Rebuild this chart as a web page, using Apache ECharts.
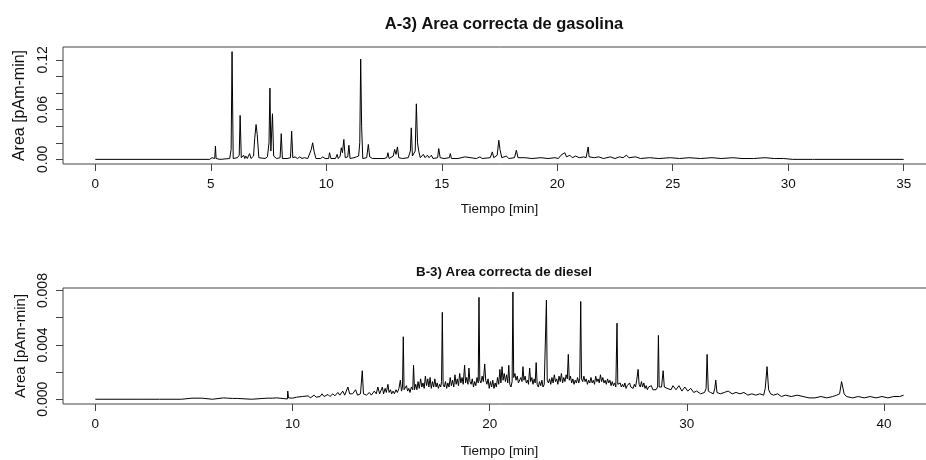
<!DOCTYPE html>
<html>
<head>
<meta charset="utf-8">
<script src="https://cdn.jsdelivr.net/npm/echarts@6/dist/echarts.min.js"></script>
<style>
    html, body { margin: 0; padding: 0; background: #fff; overflow: hidden; }
    /* el grafico original esta recortado por la derecha */
    #main { width: 944px; height: 460px; }
</style>
</head>
<body>
<div id="main"></div>
<script>
var gasolina = [
    [0,0],[4.95,0],[5.05,0.002],[5.12,0],[5.17,0.001],[5.2,0.016],[5.23,0.001],[5.4,0],[5.82,0.001],[5.88,0.012],[5.92,0.130],[5.97,0.001],
    [6.15,0.002],[6.23,0.005],[6.27,0.053],[6.32,0.002],[6.42,0.005],[6.47,0.001],[6.52,0.004],[6.58,0.001],[6.68,0.007],[6.74,0.001],
    [6.85,0.004],[6.9,0.025],[6.96,0.042],[7.01,0.03],[7.08,0.002],[7.35,0.001],[7.45,0.003],[7.52,0.02],[7.56,0.086],[7.6,0.01],
    [7.67,0.055],[7.72,0.004],[7.85,0.001],[8.0,0.002],[8.05,0.031],[8.1,0.001],[8.3,0.001],[8.45,0.002],[8.5,0.034],[8.55,0.002],
    [8.65,0.003],[8.75,0.001],[8.85,0.003],[8.95,0.001],[9.05,0.002],[9.2,0.001],[9.35,0.012],[9.41,0.020],[9.47,0.01],[9.55,0.001],
    [9.75,0.001],[9.85,0.003],[9.95,0.001],[10.1,0.001],[10.14,0.008],[10.2,0.001],[10.4,0.001],[10.47,0.006],[10.52,0.001],
    [10.6,0.004],[10.65,0.014],[10.7,0.008],[10.76,0.024],[10.82,0.002],[10.93,0.003],[10.98,0.017],[11.03,0.001],[11.2,0.002],
    [11.3,0.003],[11.4,0.004],[11.45,0.02],[11.49,0.121],[11.53,0.04],[11.58,0.001],[11.75,0.002],[11.82,0.018],[11.88,0.003],
    [12.0,0.001],[12.5,0.001],[12.62,0.002],[12.67,0.008],[12.72,0.001],[12.9,0.004],[12.96,0.012],[13.02,0.006],[13.08,0.015],
    [13.14,0.002],[13.3,0.001],[13.55,0.002],[13.64,0.01],[13.68,0.038],[13.73,0.004],[13.85,0.01],[13.9,0.067],[13.95,0.02],
    [14.01,0.009],[14.07,0.002],[14.2,0.006],[14.28,0.002],[14.38,0.005],[14.45,0.002],[14.55,0.005],[14.62,0.001],[14.82,0.002],
    [14.87,0.013],[14.93,0.002],[15.1,0.001],[15.33,0.002],[15.37,0.007],[15.42,0.001],[15.7,0.001],[16.0,0.003],[16.05,0.001],
    [16.5,0.001],[16.65,0.003],[16.75,0.001],[17.1,0.002],[17.19,0.009],[17.25,0.002],[17.4,0.005],[17.47,0.023],[17.52,0.012],
    [17.6,0.002],[17.8,0.004],[17.9,0.001],[18.15,0.002],[18.23,0.011],[18.3,0.002],[18.6,0.002],[18.9,0.001],[19.3,0.002],
    [19.6,0.001],[19.9,0.002],[20.05,0.001],[20.16,0.005],[20.22,0.003],[20.33,0.008],[20.4,0.003],[20.55,0.005],[20.65,0.002],
    [20.8,0.004],[20.95,0.002],[21.15,0.003],[21.25,0.002],[21.3,0.003],[21.34,0.015],[21.38,0.003],[21.6,0.002],[21.8,0.003],[22.0,0.001],
    [22.3,0.003],[22.5,0.001],[22.7,0.003],[22.85,0.002],[23.0,0.005],[23.1,0.002],[23.4,0.003],[23.6,0.001],[24.0,0.002],
    [24.4,0.001],[24.9,0.002],[25.3,0.001],[25.7,0.002],[26.2,0.001],[26.7,0.002],[27.1,0.001],[27.6,0.002],[28.0,0.001],
    [28.5,0.001],[29.0,0.002],[29.4,0.001],[29.8,0.001],[30.2,0],[31.05,0],[31.1,0.002],[31.15,0],[35,0]
];
var diesel = [
    [0,0],[0.18,0],[0.2,0.00012],[0.22,0],[0.69,0],[0.71,0.00012],[0.73,0],[1.4,0],[1.42,0.00012],[1.44,0],[2.16,0],[2.18,0.00012],
    [2.2,0],[3.26,0],[3.28,0.00012],[3.3,0],[4.38,0],[4.4,0.00008],[4.42,0],[4.9,0.00008],[4.92,0],[5.4,0.00008],[5.42,0],[5.94,0],
    [5.96,0.0001],[5.98,0],[6.5,0.0001],[6.52,0.00002],[6.7,0.00008],[6.75,0.00002],[6.95,0.00006],[7.0,0.00002],[7.2,0.00006],
    [7.25,0],[7.93,0],[7.95,0.0001],[7.97,0],[8.5,0.00006],[8.55,0.00002],[8.75,0.00008],[8.8,0.00002],[9.0,0.00008],[9.05,0.00002],
    [9.2,0.0001],[9.25,0.00002],[9.74,0.00002],[9.76,0.0006],[9.8,0.0001],[10.0,0.00008],[10.2,0.00015],[10.3,0.00005],[10.5,0.0002],
    [10.6,0.0001],[10.8,0.00025],[10.9,0.0001],[11.1,0.0003],[11.2,0.00015],[11.4,0.0002],[11.5,0.0004],[11.6,0.0002],[11.8,0.00035],
    [11.9,0.0002],[12.05,0.0004],[12.15,0.00025],[12.3,0.0005],[12.4,0.0003],[12.55,0.0006],[12.65,0.0003],[12.81,0.0009],[12.9,0.0004],
    [13.05,0.0004],[13.2,0.0007],[13.3,0.0003],[13.45,0.0004],[13.54,0.0021],[13.6,0.0004],[13.75,0.0003],[13.9,0.0005],[14.0,0.0003],
    [14.15,0.0006],[14.25,0.0004],[14.33,0.0009],[14.42,0.0004],
    [14.5,0.0005],[14.56,0.0009],[14.62,0.0004],[14.7,0.0008],[14.76,0.0005],[14.84,0.0011],[14.9,0.0005],[14.97,0.0007],[15.03,0.0004],
    [15.1,0.0006],[15.17,0.0004],[15.25,0.0007],[15.32,0.0005],[15.4,0.0008],[15.47,0.0014],[15.53,0.0006],[15.58,0.0009],[15.62,0.0046],
    [15.66,0.0007],[15.72,0.0006],[15.78,0.001],[15.84,0.0006],[15.9,0.0008],[15.96,0.0005],[16.03,0.0009],[16.1,0.0007],[16.14,0.0025],
    [16.19,0.0007],[16.25,0.0011],[16.31,0.0007],[16.37,0.0013],[16.43,0.0008],[16.5,0.0015],[16.56,0.0009],[16.62,0.0012],[16.68,0.0008],
    [16.74,0.0017],[16.8,0.001],[16.86,0.0015],[16.92,0.0009],[16.98,0.0016],[17.04,0.0008],[17.1,0.0013],[17.16,0.0009],[17.22,0.0015],
    [17.28,0.0009],[17.34,0.0012],[17.4,0.0008],[17.46,0.0011],[17.52,0.0009],[17.56,0.0013],[17.6,0.0064],[17.64,0.0011],
    [17.7,0.0009],[17.76,0.0013],[17.82,0.0008],[17.88,0.0012],[17.94,0.0009],[18.0,0.0016],[18.06,0.001],[18.12,0.0014],[18.18,0.0009],
    [18.24,0.0018],[18.3,0.0011],[18.36,0.0015],[18.42,0.001],[18.48,0.0019],[18.54,0.0012],[18.6,0.0016],[18.66,0.0011],[18.73,0.0025],
    [18.78,0.0012],[18.84,0.0016],[18.9,0.0011],[18.95,0.0023],[19.0,0.0013],[19.06,0.0011],[19.12,0.0015],[19.18,0.0009],[19.24,0.0013],
    [19.3,0.001],[19.36,0.0016],[19.42,0.0012],[19.46,0.0075],[19.5,0.0014],
    [19.56,0.0012],[19.62,0.0017],[19.68,0.0013],[19.75,0.0026],[19.8,0.0014],[19.86,0.0011],[19.92,0.0015],[19.98,0.0008],[20.04,0.0013],
    [20.1,0.0009],[20.16,0.0014],[20.22,0.0008],[20.28,0.0012],[20.34,0.0009],[20.4,0.0016],[20.46,0.0011],[20.52,0.0022],[20.57,0.0012],
    [20.63,0.0024],[20.68,0.0014],[20.74,0.0019],[20.8,0.0013],[20.86,0.0018],[20.92,0.0012],[20.97,0.0025],[21.02,0.0011],[21.08,0.0009],
    [21.14,0.0013],[21.18,0.0079],[21.22,0.0016],
    [21.28,0.0019],[21.34,0.0014],[21.4,0.0017],[21.46,0.0012],[21.52,0.0011],[21.58,0.0016],[21.64,0.0013],[21.69,0.0024],[21.74,0.0014],
    [21.8,0.0017],[21.86,0.0012],[21.92,0.0014],[21.97,0.0011],[22.03,0.0023],[22.08,0.0013],[22.14,0.0016],[22.2,0.0011],[22.26,0.0015],
    [22.31,0.0012],[22.36,0.0027],[22.41,0.0011],[22.47,0.0009],[22.53,0.0013],[22.59,0.0010],[22.65,0.0014],[22.71,0.0009],[22.77,0.0011],
    [22.83,0.0010],[22.88,0.0073],[22.92,0.0014],
    [22.98,0.0012],[23.04,0.0015],[23.1,0.0011],[23.16,0.0016],[23.22,0.0012],[23.28,0.0018],[23.34,0.0013],[23.4,0.0015],[23.46,0.0011],
    [23.52,0.0017],[23.58,0.0013],[23.64,0.0019],[23.7,0.0012],[23.76,0.0016],[23.82,0.0013],[23.88,0.0018],[23.94,0.0015],[23.99,0.0033],
    [24.04,0.0014],[24.1,0.0017],[24.16,0.0012],[24.22,0.0015],[24.28,0.0011],[24.34,0.0014],[24.4,0.0012],[24.46,0.0016],[24.52,0.0012],
    [24.57,0.0015],[24.62,0.0072],[24.66,0.0015],
    [24.72,0.0013],[24.78,0.0017],[24.84,0.0013],[24.9,0.0015],[24.96,0.0011],[25.02,0.0014],[25.08,0.0012],[25.14,0.0016],[25.2,0.0012],
    [25.26,0.0014],[25.32,0.0011],[25.38,0.0017],[25.44,0.0013],[25.5,0.0015],[25.56,0.0012],[25.62,0.0018],[25.68,0.0013],[25.74,0.0016],
    [25.8,0.0012],[25.86,0.0014],[25.92,0.0011],[25.98,0.0015],[26.04,0.0012],[26.1,0.0014],[26.16,0.0010],[26.22,0.0013],[26.28,0.0010],
    [26.34,0.0012],[26.4,0.0009],[26.46,0.0056],[26.5,0.0011],
    [26.56,0.0010],[26.62,0.0012],[26.68,0.0009],[26.74,0.0011],[26.8,0.0009],[26.86,0.0012],[26.92,0.0008],[26.98,0.0010],[27.04,0.0009],
    [27.1,0.0012],[27.16,0.0009],[27.22,0.0010],[27.28,0.0008],[27.34,0.0011],[27.4,0.0009],[27.46,0.0014],[27.53,0.0022],[27.58,0.0011],
    [27.64,0.0009],[27.7,0.0013],[27.76,0.0009],[27.82,0.0012],[27.88,0.0008],[27.94,0.001],[28.0,0.0007],[28.06,0.0009],[28.12,0.0008],
    [28.2,0.0010],[28.28,0.0007],[28.36,0.0008],[28.44,0.0007],[28.52,0.0009],[28.56,0.0047],[28.6,0.0009],[28.66,0.0010],[28.72,0.0009],
    [28.8,0.0021],[28.86,0.0009],
    [29.0,0.0008],[29.2,0.0007],[29.3,0.0010],[29.45,0.0007],
    [29.6,0.0010],[29.75,0.0006],[29.9,0.0009],[30.05,0.0006],[30.2,0.0008],[30.35,0.0005],[30.5,0.0006],[30.7,0.0004],[30.9,0.0005],
    [30.98,0.0008],[31.03,0.0033],[31.09,0.0006],[31.2,0.0005],[31.35,0.0004],[31.42,0.0008],[31.47,0.0014],[31.53,0.0005],[31.7,0.0004],
    [31.9,0.0005],[32.1,0.0006],[32.3,0.0004],[32.5,0.0005],[32.7,0.0004],[32.9,0.0005],[33.1,0.0003],[33.3,0.0004],[33.5,0.0003],
    [33.7,0.0004],[33.9,0.0003],[33.98,0.0008],[34.07,0.0024],[34.15,0.0007],[34.25,0.0004],[34.4,0.0003],[34.6,0.0004],[34.8,0.0002],
    [35.0,0.0003],[35.3,0.0002],[35.6,0.0003],[35.9,0.0002],[36.2,0.0001],[36.5,0.0001],[36.8,0.0002],[37.1,0.0001],[37.4,0.0002],
    [37.6,0.0003],[37.75,0.0004],[37.85,0.0013],[37.92,0.0012],[37.98,0.0004],[38.1,0.0002],[38.4,0.0001],[38.7,0.0002],[39.0,0.0001],
    [39.3,0.0002],[39.6,0.0001],[39.9,0.0002],[40.2,0.0001],[40.5,0.0002],[40.8,0.0002],[41.0,0.0003]
];

// marcas de los ejes
var gasXTicks = [0, 5, 10, 15, 20, 25, 30, 35];
var gasYTicks = [0, 0.02, 0.04, 0.06, 0.08, 0.10, 0.12];
var gasYLabels = [0, 0.06, 0.12];
var dieXTicks = [0, 10, 20, 30, 40];
var dieYTicks = [0, 0.002, 0.004, 0.006, 0.008];
var dieYLabels = [0, 0.004, 0.008];

var font = 'Liberation Sans, Arial, sans-serif';
var boxColor = '#444';

function ejeX(idx, min, max, ticks) {
    return {
        type: 'value', gridIndex: idx, min: min, max: max,
        name: 'Tiempo [min]', nameLocation: 'middle', nameGap: idx == 0 ? 38 : 40,
        nameTextStyle: { fontFamily: font, fontSize: 13.5, color: '#111', verticalAlign: 'top' },
        axisLine: { show: false, onZero: false },
        axisTick: { show: true, inside: false, length: 7, lineStyle: { color: boxColor }, customValues: ticks },
        axisLabel: { fontFamily: font, fontSize: 13.5, color: '#111', margin: 13, customValues: ticks },
        splitLine: { show: false }
    };
}
function ejeY(idx, min, max, ticks, labels, dec, nameSize) {
    return {
        type: 'value', gridIndex: idx, min: min, max: max,
        name: 'Area [pAm-min]', nameLocation: 'middle', nameGap: 35, nameRotate: 90,
        nameTextStyle: { fontFamily: font, fontSize: nameSize, color: '#111' },
        axisLine: { show: false, onZero: false },
        axisTick: { show: true, inside: false, length: 7, lineStyle: { color: boxColor }, customValues: ticks },
        axisLabel: {
            fontFamily: font, fontSize: 14, color: '#111', rotate: 90, margin: 13,
            customValues: labels,
            formatter: function (v) { return v.toFixed(dec); }
        },
        splitLine: { show: false }
    };
}

var myChart = echarts.init(document.getElementById('main'));
option = {
    animation: false,
    backgroundColor: '#fff',
    title: [
        { text: 'A-3) Area correcta de gasolina', left: 499, top: 11, textAlign: 'center',
          textStyle: { fontFamily: font, fontSize: 16.5, fontWeight: 'bold', color: '#111' } },
        { text: 'B-3) Area correcta de diesel', left: 499, top: 261, textAlign: 'center',
          textStyle: { fontFamily: font, fontSize: 13.3, fontWeight: 'bold', color: '#111' } }
    ],
    grid: [
        { left: 63, top: 47, width: 873, height: 117, show: true, borderColor: boxColor, borderWidth: 1, backgroundColor: 'transparent' },
        { left: 63, top: 288, width: 873, height: 116, show: true, borderColor: boxColor, borderWidth: 1, backgroundColor: 'transparent' }
    ],
    xAxis: [
        ejeX(0, -1.4, 36.4, gasXTicks),
        ejeX(1, -1.64, 42.64, dieXTicks)
    ],
    yAxis: [
        ejeY(0, -0.0056, 0.1356, gasYTicks, gasYLabels, 2, 16),
        ejeY(1, -0.00035, 0.00819, dieYTicks, dieYLabels, 3, 15)
    ],
    series: [
        { type: 'line', xAxisIndex: 0, yAxisIndex: 0, data: gasolina, showSymbol: false,
          lineStyle: { color: '#000', width: 1 } },
        { type: 'line', xAxisIndex: 1, yAxisIndex: 1, data: diesel, showSymbol: false,
          lineStyle: { color: '#000', width: 1 } }
    ]
};
myChart.setOption(option);
</script>
</body>
</html>
